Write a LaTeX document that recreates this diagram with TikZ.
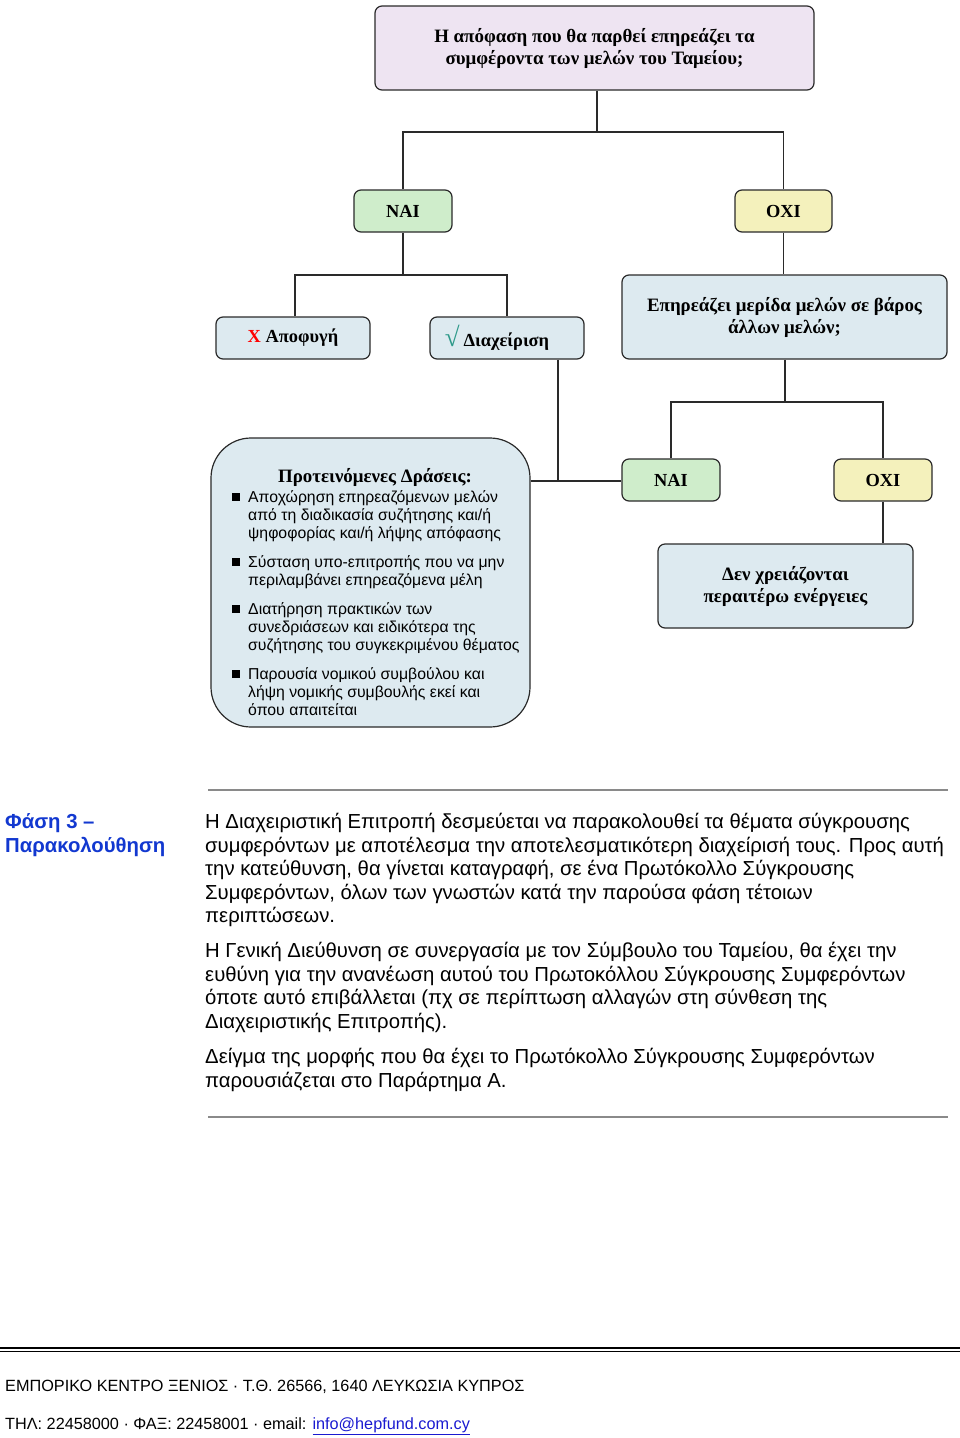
\documentclass[tikz,border=0pt]{standalone}
\usepackage{fontspec}
\setmainfont{Liberation Sans}
\newfontfamily\tnr{Liberation Serif}
\definecolor{lav}{HTML}{EEE4F2}
\definecolor{grn}{HTML}{CFEDCB}
\definecolor{yel}{HTML}{F4F1BC}
\definecolor{lbl}{HTML}{DDEAF0}
\definecolor{edgec}{HTML}{2A2A2A}
\definecolor{phase}{HTML}{1238D0}
\definecolor{chk}{HTML}{2E9A8A}
\definecolor{rulec}{HTML}{8A8A8A}
\definecolor{linkc}{HTML}{1A1AD0}
\tikzset{
  box/.style={draw=edgec, line width=1.2pt, rounded corners=7pt, align=center, inner sep=0pt},
  hd/.style={font=\tnr\bfseries\fontsize{18.9}{22}\selectfont},
  sm/.style={font=\tnr\bfseries\fontsize{18.4}{22}\selectfont},
  link/.style={draw=edgec, line width=1.3pt},
  bt/.style={font=\fontsize{15.8}{18}\selectfont, anchor=base west, inner sep=0pt},
  pt/.style={font=\fontsize{20.3}{24}\selectfont, anchor=base west, inner sep=0pt},
  ft/.style={font=\fontsize{16.25}{20}\selectfont, anchor=base west, inner sep=0pt},
  sq/.style={fill=black, minimum size=7.5pt, inner sep=0pt},
}
\begin{document}
\begin{tikzpicture}[x=1pt,y=-1pt]
\useasboundingbox (0,0) rectangle (960,1438);
% boxes
\node[box, hd, fill=lav, minimum width=439pt, minimum height=84pt] (top) at (594.5,48)
  {Η απόφαση που θα παρθεί επηρεάζει τα\\συμφέροντα των μελών του Ταμείου;};
\node[box, sm, fill=grn, minimum width=98pt, minimum height=42pt] (nai1) at (403,211) {NAI};
\node[box, sm, fill=yel, minimum width=97pt, minimum height=42pt] (oxi1) at (783.5,211) {OXI};
\node[box, sm, fill=lbl, minimum width=154pt, minimum height=42pt] (apo) at (293,338) {{\color{red}X} Αποφυγή};
\node[box, sm, fill=lbl, minimum width=154pt, minimum height=42pt] (diax) at (507,338) {{\color{chk}\fontsize{27}{27}\selectfont √}\hspace{4pt}Διαχείριση\hspace*{20pt}};
\node[box, hd, fill=lbl, minimum width=325pt, minimum height=84pt] (epi) at (784.5,317)
  {Επηρεάζει μερίδα μελών σε βάρος\\άλλων μελών;};
\node[box, fill=lbl, rounded corners=40pt, minimum width=319pt, minimum height=289pt] (prot) at (370.5,582.5) {};
\node[box, sm, fill=grn, minimum width=98pt, minimum height=42pt] (nai2) at (671,480) {NAI};
\node[box, sm, fill=yel, minimum width=98pt, minimum height=42pt] (oxi2) at (883,480) {OXI};
\node[box, hd, fill=lbl, minimum width=255pt, minimum height=84pt] (den) at (785.5,586)
  {Δεν χρειάζονται\\περαιτέρω ενέργειες};
% connectors
\coordinate (j1) at (597,132);
\coordinate (j2) at (403,275);
\coordinate (j3) at (558,481);
\coordinate (j4) at (785,402);
\draw[link] (top.south -| j1) -- (j1);
\draw[link] (nai1.north) |- (j1) -| (oxi1.north);
\draw[link] (nai1.south) -- (j2);
\draw[link] ([xshift=2pt]apo.north) |- (j2) -| (diax.north);
\draw[link] (diax.south -| j3) -- (j3);
\draw[link] (prot.east |- j3) -- (nai2.west |- j3);
\draw[link] (oxi1.south) -- (oxi1.south |- epi.north);
\draw[link] (epi.south -| j4) -- (j4);
\draw[link] (nai2.north) |- (j4) -| (oxi2.north);
\draw[link] (oxi2.south) -- (oxi2.south |- den.north);
% proteinomenes text
\node[hd] (ptitle) at (375,477) {Προτεινόμενες Δράσεις:};
\node[sq] (s1) at (236,497) {};
\node[sq] (s2) at (236,562) {};
\node[sq] (s3) at (236,609) {};
\node[sq] (s4) at (236,674) {};
\foreach \yy/\tt [count=\i] in {502/{Αποχώρηση επηρεαζόμενων μελών},
  520/{από τη διαδικασία συζήτησης και/ή},
  538/{ψηφοφορίας και/ή λήψης απόφασης},
  567/{Σύσταση υπο-επιτροπής που να μην},
  585/{περιλαμβάνει επηρεαζόμενα μέλη},
  614/{Διατήρηση πρακτικών των},
  632/{συνεδριάσεων και ειδικότερα της},
  650/{συζήτησης του συγκεκριμένου θέματος},
  679/{Παρουσία νομικού συμβούλου και},
  697/{λήψη νομικής συμβουλής εκεί και},
  715/{όπου απαιτείται}}
  \node[bt] (bl\i) at (248,\yy) {\tt};
% lower section
\draw[rulec, line width=1.4pt] (208,790) -- (948,790);
\node[pt, font=\bfseries\fontsize{20.3}{24}\selectfont, text=phase] (ph1) at (5,828) {Φάση 3 –};
\node[pt, font=\bfseries\fontsize{20.3}{24}\selectfont, text=phase] (ph2) at (5,852) {Παρακολούθηση};
\foreach \yy/\tt [count=\i] in {828/{Η Διαχειριστική Επιτροπή δεσμεύεται να παρακολουθεί τα θέματα σύγκρουσης},
  852/{συμφερόντων με αποτέλεσμα την αποτελεσματικότερη διαχείρισή τους. Προς αυτή},
  875.5/{την κατεύθυνση, θα γίνεται καταγραφή, σε ένα Πρωτόκολλο Σύγκρουσης},
  899/{Συμφερόντων, όλων των γνωστών κατά την παρούσα φάση τέτοιων},
  922.5/{περιπτώσεων.},
  957/{Η Γενική Διεύθυνση σε συνεργασία με τον Σύμβουλο του Ταμείου, θα έχει την},
  981/{ευθύνη για την ανανέωση αυτού του Πρωτοκόλλου Σύγκρουσης Συμφερόντων},
  1004.5/{όποτε αυτό επιβάλλεται (πχ σε περίπτωση αλλαγών στη σύνθεση της},
  1028/{Διαχειριστικής Επιτροπής).},
  1063/{Δείγμα της μορφής που θα έχει το Πρωτόκολλο Σύγκρουσης Συμφερόντων},
  1087/{παρουσιάζεται στο Παράρτημα Α.}}
  \node[pt] (pl\i) at (205,\yy) {\tt};
\draw[rulec, line width=1.4pt] (208,1117) -- (948,1117);
% footer
\draw[black, line width=2pt] (0,1348.3) -- (960,1348.3);
\draw[black, line width=1pt] (0,1351.6) -- (960,1351.6);
\node[ft] (f1) at (5,1391.5) {ΕΜΠΟΡΙΚΟ ΚΕΝΤΡΟ ΞΕΝΙΟΣ · Τ.Θ. 26566, 1640 ΛΕΥΚΩΣΙΑ ΚΥΠΡΟΣ};
\node[ft] (f2) at (5,1429.5) {ΤΗΛ: 22458000 · ΦΑΞ: 22458001 · email: {\color{linkc}\underline{info@hepfund.com.cy}}};
\end{tikzpicture}
\end{document}
